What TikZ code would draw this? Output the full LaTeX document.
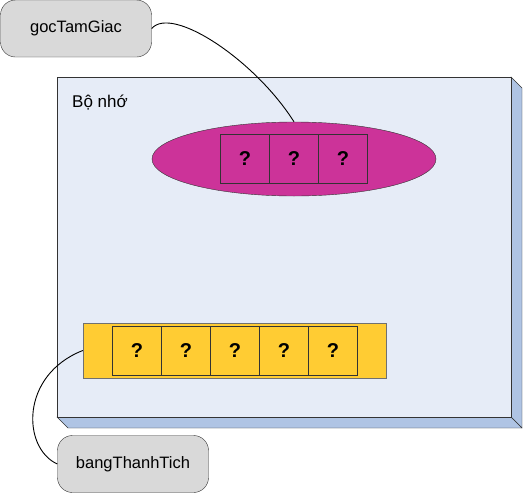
\documentclass[tikz,border=0pt]{standalone}
\usepackage{fontspec}
\setmainfont{Liberation Sans}
\usepackage{tikz}
\usetikzlibrary{positioning, shapes.geometric}
\definecolor{namegray}{HTML}{D9D9D9}
\definecolor{memfront}{HTML}{E6ECF7}
\definecolor{memside}{HTML}{AFC4E4}
\definecolor{magentafill}{HTML}{CC3399}
\definecolor{yellowfill}{HTML}{FFCC33}
\definecolor{edge}{HTML}{333333}

\begin{document}
\begin{tikzpicture}[
  x=1pt, y=-1pt,
  namebox/.style={draw=edge, fill=namegray, rounded corners=15pt,
                  minimum width=151pt, minimum height=57pt,
                  font=\fontsize{16.5}{19}\selectfont},
  cell/.style={draw=edge, minimum width=49pt, minimum height=49pt,
               inner sep=0pt, outer sep=0pt,
               font=\fontsize{20}{24}\selectfont\bfseries},
  link/.style={draw=black, line width=0.9pt}
]
  \useasboundingbox (0,0) rectangle (523,493);

  % Memory block (front face + depth)
  \fill[memside, draw=edge] (511,77) -- (522,88) -- (522,428) -- (511,417) -- cycle;
  \fill[memside, draw=edge] (57,417) -- (511,417) -- (522,428) -- (68,428) -- cycle;
  \node[draw=edge, fill=memfront, minimum width=454pt, minimum height=340pt,
        inner sep=0pt, anchor=north west] (mem) at (57,77) {};
  \node[anchor=west, inner sep=0pt, font=\fontsize{17}{20}\selectfont] (memlabel) at (72,103) {Bộ nhớ};

  % Ellipse with three cells
  \node[ellipse, draw=edge, fill=magentafill, minimum width=284pt,
        minimum height=74pt, inner sep=0pt] (vung) at (294,159) {};
  \node[cell] (g2) at (294,159) {?};
  \node[cell, left=0pt of g2] (g1) {?};
  \node[cell, right=0pt of g2] (g3) {?};

  % Yellow bar with five cells
  \node[draw=edge!70, fill=yellowfill, minimum width=303pt, minimum height=55pt,
        inner sep=0pt] (bang) at (234.5,350.5) {};
  \node[cell] (b3) at (235,350.5) {?};
  \node[cell, left=0pt of b3] (b2) {?};
  \node[cell, left=0pt of b2] (b1) {?};
  \node[cell, right=0pt of b3] (b4) {?};
  \node[cell, right=0pt of b4] (b5) {?};

  % Names
  \node[namebox] (goc) at (76,28.5) {gocTamGiac};
  \node[namebox] (ten) at (133,464) {bangThanhTich};

  % Links
  \draw[link] (goc.east) .. controls (172,5) and (255,60) .. (vung.north);
  \draw[link] (bang.west) .. controls (20,375) and (22,448) .. (ten.west);
\end{tikzpicture}
\end{document}
